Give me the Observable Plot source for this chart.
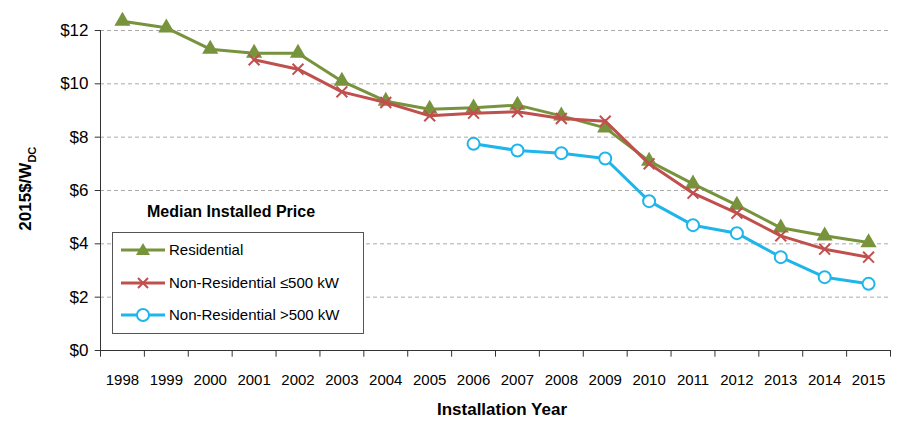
<!DOCTYPE html><html><head><meta charset="utf-8">
<script src="https://cdn.jsdelivr.net/npm/d3@7"></script>
<script src="https://cdn.jsdelivr.net/npm/@observablehq/plot@0.6"></script>
<style>body{margin:0;font-family:Arial,"Liberation Sans",sans-serif;}#wrap{position:relative;width:904px;height:430px;}
.lab{position:absolute;font-weight:bold;color:#000;}
</style></head><body><div id="wrap"></div>
<script>
const years=d3.range(1998,2016);
const residential=[12.35,12.1,11.3,11.15,11.15,10.1,9.35,9.05,9.1,9.2,8.8,8.35,7.1,6.25,5.45,4.6,4.3,4.05];
const nonResSmallYears=d3.range(2001,2016);
const nonResSmall=[10.9,10.55,9.7,9.3,8.8,8.9,8.95,8.7,8.6,7.0,5.9,5.15,4.3,3.8,3.5];
const nonResLargeYears=d3.range(2006,2016);
const nonResLarge=[7.75,7.5,7.4,7.2,5.6,4.7,4.4,3.5,2.75,2.5];
const yTicks=[0,2,4,6,8,10,12];
const cG="#77933c",cR="#c0504d",cB="#1fb5ea";
const res=years.map((y,i)=>({y,v:residential[i]}));
const sm=nonResSmallYears.map((y,i)=>({y,v:nonResSmall[i]}));
const lg=nonResLargeYears.map((y,i)=>({y,v:nonResLarge[i]}));
const bounds=d3.range(1997.5,2016,1);
const p=Plot.plot({width:904,height:430,marginLeft:100,marginRight:14,marginTop:30,marginBottom:80,
 style:{fontFamily:"Arial, Liberation Sans, sans-serif",overflow:"visible"},
 x:{domain:[1997.5,2015.5],axis:null},
 y:{domain:[0,12],axis:null},
 marks:[
  Plot.ruleY(yTicks.filter(d=>d>0),{stroke:"#aaa",strokeDasharray:"4,3",strokeWidth:1}),
  Plot.ruleY([0],{stroke:"#333"}),
  Plot.ruleX([1997.5],{stroke:"#333"}),
  Plot.ruleX(bounds,{x:d=>d,y1:0,y2:-0.25,stroke:"#333",clip:false}),
  Plot.ruleY(yTicks,{x1:1997.5,x2:1997.38,y:d=>d,stroke:"#333"}),
  Plot.text(yTicks,{x:1997.5,y:d=>d,text:d=>"$"+d,textAnchor:"end",dx:-12,fontSize:17,fill:"#000"}),
  Plot.text(years,{x:d=>d,y:0,text:d=>String(d),dy:30,fontSize:15,fill:"#000"}),
  Plot.line(res,{x:"y",y:"v",stroke:cG,strokeWidth:3}),
  Plot.dot(res,{x:"y",y:"v",symbol:"triangle",fill:cG,r:6}),
  Plot.line(sm,{x:"y",y:"v",stroke:cR,strokeWidth:3}),
  Plot.dot(sm,{x:"y",y:"v",symbol:"times",stroke:cR,strokeWidth:2,r:5}),
  Plot.line(lg,{x:"y",y:"v",stroke:cB,strokeWidth:3}),
  Plot.dot(lg,{x:"y",y:"v",symbol:"circle",stroke:cB,fill:"white",strokeWidth:2,r:6})
 ]});
const w=document.getElementById("wrap");w.appendChild(p);
w.insertAdjacentHTML("beforeend",`
<div class="lab" style="left:0;top:400px;width:904px;padding-left:100px;box-sizing:border-box;text-align:center;font-size:17px;">Installation Year</div>
<div class="lab" style="left:-48px;top:178px;width:150px;text-align:center;font-size:17px;transform:rotate(-90deg);">2015$/W<sub style="font-size:11px">DC</sub></div>
<div class="lab" style="left:147px;top:203px;font-size:16px;">Median Installed Price</div>
<div style="position:absolute;left:112px;top:232px;width:250px;height:100px;border:1px solid #555;background:white;font-size:15px;">
<svg width="250" height="100" style="position:absolute;left:0;top:0">
<line x1="8" x2="52" y1="17" y2="17" stroke="${cG}" stroke-width="3"/><path d="M30,10 L37,22 L23,22Z" fill="${cG}"/>
<line x1="8" x2="52" y1="50" y2="50" stroke="${cR}" stroke-width="3"/><path d="M25,45 L35,55 M35,45 L25,55" stroke="${cR}" stroke-width="2"/>
<line x1="8" x2="52" y1="82" y2="82" stroke="${cB}" stroke-width="3"/><circle cx="30" cy="82" r="6" fill="white" stroke="${cB}" stroke-width="2"/>
<text x="56" y="22" font-size="15">Residential</text>
<text x="56" y="55" font-size="15">Non-Residential  ≤500 kW</text>
<text x="56" y="87" font-size="15">Non-Residential  &gt;500 kW</text>
</svg></div>`);
</script></body></html>
